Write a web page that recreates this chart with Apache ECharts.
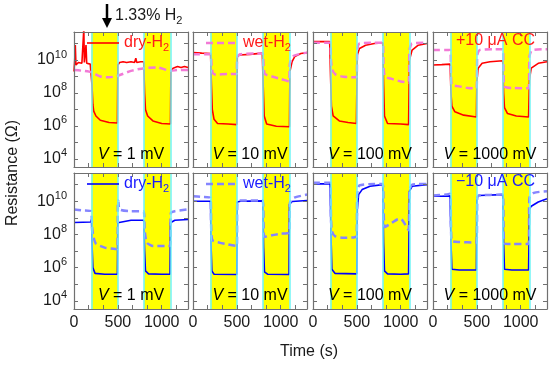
<!DOCTYPE html>
<html><head><meta charset="utf-8">
<script src="https://cdn.jsdelivr.net/npm/echarts@6/dist/echarts.min.js"></script>
<style>html,body{margin:0;padding:0;background:#fff}#c{width:550px;height:365px}</style>
</head><body><div id="c"></div>
<script>
// ---------- data ----------
const timeMin = 0, timeMax = 1300;
const xLabelTicks = [0, 500, 1000];
const yLabelExps = [4, 6, 8, 10];
const yMin = 3.2e3, yMax = 5e11;
const h2Bands = [[200, 500], [800, 1100]];
const voltages = ['1 mV', '10 mV', '100 mV', '1000 mV'];

// +10 uA CC row (time s, resistance ohm)
const posDry1 = [[0,2e9],[8,1e10],[15,8e10],[22,5e9],[30,6.3e9],[50,7.1e9],[70,7.9e9],[90,6.3e9],[106,5.6e9],[112,8e11],[118,7.1e9],[130,8e9],[137,8e10],[145,6.3e9],[160,5.6e9],[185,5.6e9],[197,5e9],[205,3e8],[215,2e7],[225,7.9e6],[250,4e6],[300,2.2e6],[400,1.6e6],[495,1.5e6],[500,5e9],[520,7.1e9],[560,7.9e9],[600,7.1e9],[650,7.9e9],[690,7.1e9],[705,1.3e10],[715,7.1e9],[760,7.9e9],[795,7.9e9],[805,1e8],[815,1e7],[840,4e6],[900,2e6],[1000,1.4e6],[1100,1.3e6],[1105,2e9],[1130,3.2e9],[1180,4e9],[1220,3.5e9],[1260,4e9],[1300,3.5e9]];
const posWet1 = [[0,2.5e9],[100,2.2e9],[200,1.8e9],[300,1e9],[400,8.9e8],[500,1.1e9],[650,2.2e9],[800,3.2e9],[950,3.5e9],[1100,2.2e9],[1200,2.5e9],[1300,2.5e9]];
const posDry2 = [[0,2.8e10],[100,2.6e10],[200,2.5e10],[210,3.2e8],[220,1e7],[240,2.5e6],[280,1.4e6],[400,1.3e6],[500,1.2e6],[505,1.6e10],[530,2e10],[650,2.2e10],[790,2.6e10],[800,3.2e8],[812,4e6],[840,1.3e6],[950,9.5e5],[1100,8.9e5],[1105,2e9],[1130,7.9e9],[1160,1.6e10],[1230,2.5e10],[1300,2.8e10]];
const posWet2 = [[0,2.2e10],[200,2.2e10],[210,6.3e9],[225,1.6e9],[260,1.3e9],[400,1.4e9],[495,1.4e9],[505,1.6e10],[540,2.2e10],[700,2.5e10],[795,2.5e10],[805,4e9],[820,1.4e9],[900,1e9],[1000,7.1e8],[1095,5e8],[1105,6.3e9],[1150,1.8e10],[1300,2.8e10]];
const posDry3 = [[0,1.3e11],[100,1.3e11],[190,1.3e11],[200,1e9],[210,1.6e7],[230,4e6],[300,2e6],[400,1.6e6],[495,1.4e6],[505,2e10],[530,5e10],[600,7.9e10],[700,1e11],[795,1.1e11],[805,3.2e8],[815,4e6],[850,1.4e6],[1000,1.3e6],[1090,1.2e6],[1100,1e10],[1130,4e10],[1200,7.9e10],[1300,1e11]];
const posWet3 = [[0,1.1e11],[195,1.1e11],[205,1e10],[220,2.5e9],[260,1.3e9],[350,9.5e8],[495,8.9e8],[505,4e10],[530,1e11],[700,1.1e11],[795,1.1e11],[805,4e9],[820,1e9],[900,7.1e8],[1000,5e8],[1090,4.2e8],[1100,4e10],[1130,1e11],[1300,1.1e11]];
const posDry4 = [[0,5e9],[100,5.2e9],[195,5.6e9],[205,1e8],[215,1.6e7],[250,7.1e6],[350,4.5e6],[495,3.5e6],[500,5e8],[515,3.2e9],[560,6.3e9],[650,7.9e9],[795,8.9e9],[805,1e8],[815,1.3e7],[850,5.6e6],[950,4e6],[1090,3.5e6],[1100,6.3e8],[1120,3.2e9],[1200,6.3e9],[1300,7.9e9]];
const posWet4 = [[0,4e10],[195,4e10],[205,1.6e9],[215,3.2e8],[300,2.5e8],[400,2e8],[495,1.9e8],[505,2e10],[530,4e10],[700,4.5e10],[795,4.5e10],[805,1.6e9],[815,2.5e8],[900,2e8],[1090,1.9e8],[1100,1.6e10],[1130,4e10],[1300,4.5e10]];

// -10 uA CC row
const negDry1 = [[0,5.2e8],[100,5.4e8],[190,5.6e8],[200,7.9e8],[205,3.2e7],[215,1e6],[240,4.5e5],[350,4e5],[495,4e5],[500,5e8],[520,6.3e8],[650,7.1e8],[795,7.1e8],[805,1e7],[815,6.3e5],[850,4.2e5],[1000,4e5],[1095,4e5],[1100,5e8],[1150,7.1e8],[1300,7.9e8]];
const negWet1 = [[0,3.2e9],[100,2.8e9],[195,2.5e9],[205,3.2e8],[220,7.9e7],[250,2.8e7],[350,1.6e7],[495,1.3e7],[500,5e9],[505,1.1e10],[520,3.2e9],[650,2.5e9],[795,2.5e9],[805,2e8],[830,3.2e7],[900,2e7],[1095,2e7],[1105,2e9],[1150,2.5e9],[1300,3.2e9]];
const negDry2 = [[0,1e10],[200,1e10],[205,3.2e7],[215,6.3e5],[240,4e5],[500,3.8e5],[505,8.9e9],[540,1e10],[795,1.05e10],[805,1.6e7],[815,5.6e5],[850,4e5],[1095,3.8e5],[1100,6.3e9],[1130,9.5e9],[1300,1.1e10]];
const negWet2 = [[0,2e10],[100,1.8e10],[200,1.6e10],[207,3.2e8],[220,4.5e7],[300,3.2e7],[400,2.5e7],[500,2e7],[505,7.9e9],[540,1.1e10],[795,1.1e10],[805,3.2e8],[815,7.1e7],[900,8.9e7],[1000,1.1e8],[1095,1.3e8],[1105,7.9e9],[1150,1.6e10],[1300,2.5e10]];
const negDry3 = [[0,1.1e11],[100,1.1e11],[195,1.1e11],[205,1e8],[215,7.9e5],[250,4.5e5],[500,4.2e5],[505,3.2e9],[520,2.5e10],[560,5e10],[650,7.9e10],[795,1e11],[805,3.2e7],[815,6.3e5],[850,4.2e5],[1000,4e5],[1090,4.2e5],[1100,4e10],[1130,7.9e10],[1300,1e11]];
const negWet3 = [[0,1.3e11],[195,1.3e11],[205,1e9],[215,1.6e8],[250,7.9e7],[350,6.3e7],[495,7.1e7],[505,3.2e10],[530,8.9e10],[700,1.1e11],[795,1.1e11],[805,3.2e9],[820,2.8e8],[900,5e8],[960,7.9e8],[1000,8.9e8],[1050,4e8],[1090,1.8e8],[1100,4e10],[1130,1e11],[1300,1.1e11]];
const negDry4 = [[0,2e10],[100,2e10],[195,2.1e10],[205,3.2e7],[215,7.9e5],[300,7.2e5],[495,7.1e5],[500,1.6e10],[520,2.2e10],[795,2.5e10],[805,3.2e7],[815,7.9e5],[900,7.2e5],[1090,7.1e5],[1100,3.2e9],[1120,5e9],[1200,8.9e9],[1300,1.4e10]];
const negWet4 = [[0,2.2e10],[150,2.5e10],[195,2.8e10],[205,3.2e8],[215,4e7],[300,3.5e7],[495,3.2e7],[505,1.6e10],[520,2.2e10],[795,2.5e10],[805,3.2e8],[815,2.8e7],[900,2.6e7],[1090,2.6e7],[1100,1.6e10],[1150,3.2e10],[1300,4e10]];

// ---------- chart ----------
const dryRows = [[posDry1, posDry2, posDry3, posDry4], [negDry1, negDry2, negDry3, negDry4]];
const wetRows = [[posWet1, posWet2, posWet3, posWet4], [negWet1, negWet2, negWet3, negWet4]];
const FONT = '"Liberation Sans", Arial, sans-serif';
const rowStyle = [
  {dry: '#ff0000', wet: '#f27ad6', text: '#ff1a1a'},
  {dry: '#0000ff', wet: '#8585ff', text: '#1a1aff'}
];
const tops = [32, 173], heights = [135, 136];
const lefts = [74, 193, 313, 433], W = 114;
const frame = '#707070';

const grids = [], xAxes = [], yAxes = [], series = [], graphic = [];

function makeX(gi, pos, showLabel) {
  return {
    type: 'value', gridIndex: gi, position: pos, min: timeMin, max: timeMax,
    interval: 500 / 3, z: 5,
    axisLine: {show: true, onZero: false, lineStyle: {color: frame, width: 1.2}},
    axisTick: {show: true, inside: true, length: 4, lineStyle: {color: frame, width: 1}},
    splitLine: {show: false},
    axisLabel: {
      show: showLabel, margin: 6, color: '#1a1a1a', fontSize: 16, fontFamily: FONT,
      showMaxLabel: false,
      formatter: v => { const r = Math.round(v); return xLabelTicks.includes(r) && Math.abs(v - r) < 0.01 ? String(r) : ''; }
    }
  };
}
function makeY(gi, pos, showLabel) {
  return {
    type: 'log', logBase: 10, gridIndex: gi, position: pos, min: yMin, max: yMax, z: 5,
    axisLine: {show: true, onZero: false, lineStyle: {color: frame, width: 1.2}},
    axisTick: {show: true, inside: true, length: 4, lineStyle: {color: frame, width: 1}},
    splitLine: {show: false}, minorTick: {show: false},
    axisLabel: {
      show: showLabel, margin: 7, color: '#1a1a1a', fontFamily: FONT,
      showMinLabel: false, showMaxLabel: false,
      formatter: v => {
        const e = Math.log10(v), n = Math.round(e);
        if (Math.abs(e - n) > 1e-6 || !yLabelExps.includes(n)) return '';
        return '{b|10}{e|' + n + '}';
      },
      rich: {
        b: {fontSize: 16, lineHeight: 22, fontFamily: FONT, color: '#1a1a1a'},
        e: {fontSize: 11, lineHeight: 11, verticalAlign: 'top', fontFamily: FONT, color: '#1a1a1a'}
      }
    }
  };
}

for (let r = 0; r < 2; r++) {
  for (let c = 0; c < 4; c++) {
    const i = r * 4 + c;
    grids.push({left: lefts[c], top: tops[r], width: W, height: heights[r], show: false});
    xAxes.push(makeX(i, 'bottom', r === 1));
    xAxes.push(makeX(i, 'top', false));
    yAxes.push(makeY(i, 'left', c === 0));
    yAxes.push(makeY(i, 'right', false));
    // H2 exposure bands
    series.push({
      type: 'line', xAxisIndex: 2 * i, yAxisIndex: 2 * i, data: [], z: 1, silent: true,
      markArea: {silent: true, itemStyle: {color: '#ffff00'},
        data: h2Bands.map(b => [{xAxis: b[0]}, {xAxis: b[1]}])},
      markLine: {silent: true, symbol: 'none', label: {show: false}, animation: false,
        lineStyle: {color: '#6ff5f5', type: 'solid', width: 1.5},
        data: h2Bands.flat().map(v => ({xAxis: v}))}
    });
    series.push({
      type: 'line', xAxisIndex: 2 * i, yAxisIndex: 2 * i, data: dryRows[r][c], z: 3,
      showSymbol: false, symbol: 'none', animation: false,
      lineStyle: {color: rowStyle[r].dry, width: 1.6}
    });
    series.push({
      type: 'line', xAxisIndex: 2 * i, yAxisIndex: 2 * i, data: wetRows[r][c], z: 3,
      showSymbol: false, symbol: 'none', animation: false, smooth: 0.2,
      lineStyle: {color: rowStyle[r].wet, width: 2.5, type: [7, 4]}
    });
    // voltage label
    graphic.push({type: 'text', z: 20, style: {
      x: lefts[c] + W / 2, y: tops[r] + 123, align: 'center', verticalAlign: 'middle',
      text: '{i|V} = ' + voltages[c], fill: '#000',
      rich: {i: {fontStyle: 'italic', fontSize: 16, fontFamily: FONT, fill: '#000'}},
      font: '16px ' + FONT
    }});
  }
}

const sub = (col) => ({
  a: {fontSize: 16, lineHeight: 20, fontFamily: FONT, fill: col},
  s: {fontSize: 11, lineHeight: 11, verticalAlign: 'bottom', fontFamily: FONT, fill: col}
});
for (let r = 0; r < 2; r++) {
  const y = tops[r] + 11;
  const col = rowStyle[r];
  graphic.push({type: 'line', z: 20, shape: {x1: 87, y1: y, x2: 119, y2: y}, style: {stroke: col.dry, lineWidth: 1.6}});
  graphic.push({type: 'text', z: 20, style: {x: 124, y: y, verticalAlign: 'middle', text: '{a|dry-H}{s|2}', rich: sub(col.text)}});
  graphic.push({type: 'line', z: 20, shape: {x1: 206, y1: y, x2: 237, y2: y}, style: {stroke: col.wet, lineWidth: 2.5, lineDash: [7, 4]}});
  graphic.push({type: 'text', z: 20, style: {x: 243, y: y, verticalAlign: 'middle', text: '{a|wet-H}{s|2}', rich: sub(col.text)}});
  graphic.push({type: 'text', z: 20, style: {x: 535, y: tops[r] + 9, align: 'right', verticalAlign: 'middle',
    text: (r === 0 ? '+10 \u03bcA CC' : '\u221210 \u03bcA CC'), fill: col.text, font: '16px ' + FONT}});
}
// top annotation
graphic.push({type: 'line', z: 20, shape: {x1: 107, y1: 4, x2: 107, y2: 20}, style: {stroke: '#000', lineWidth: 2.5}});
graphic.push({type: 'polygon', z: 20, shape: {points: [[102, 18], [112, 18], [107, 28]]}, style: {fill: '#000'}});
graphic.push({type: 'text', z: 20, style: {x: 115, y: 16, verticalAlign: 'middle', text: '{a|1.33% H}{s|2}', rich: sub('#1a1a1a')}});
// axis titles
graphic.push({type: 'text', z: 20, x: 13, y: 173, rotation: Math.PI / 2, style: {
  x: 0, y: 0, align: 'center', verticalAlign: 'middle', text: 'Resistance (\u03a9)', fill: '#1a1a1a', font: '16px ' + FONT}});
graphic.push({type: 'text', z: 20, style: {x: 309, y: 352, align: 'center', verticalAlign: 'middle',
  text: 'Time (s)', fill: '#1a1a1a', font: '16px ' + FONT}});

const chart = echarts.init(document.getElementById('c'), null, {renderer: 'canvas'});
chart.setOption({
  animation: false, backgroundColor: '#fff',
  grid: grids, xAxis: xAxes, yAxis: yAxes, series: series, graphic: graphic
});
</script>
</body></html>
